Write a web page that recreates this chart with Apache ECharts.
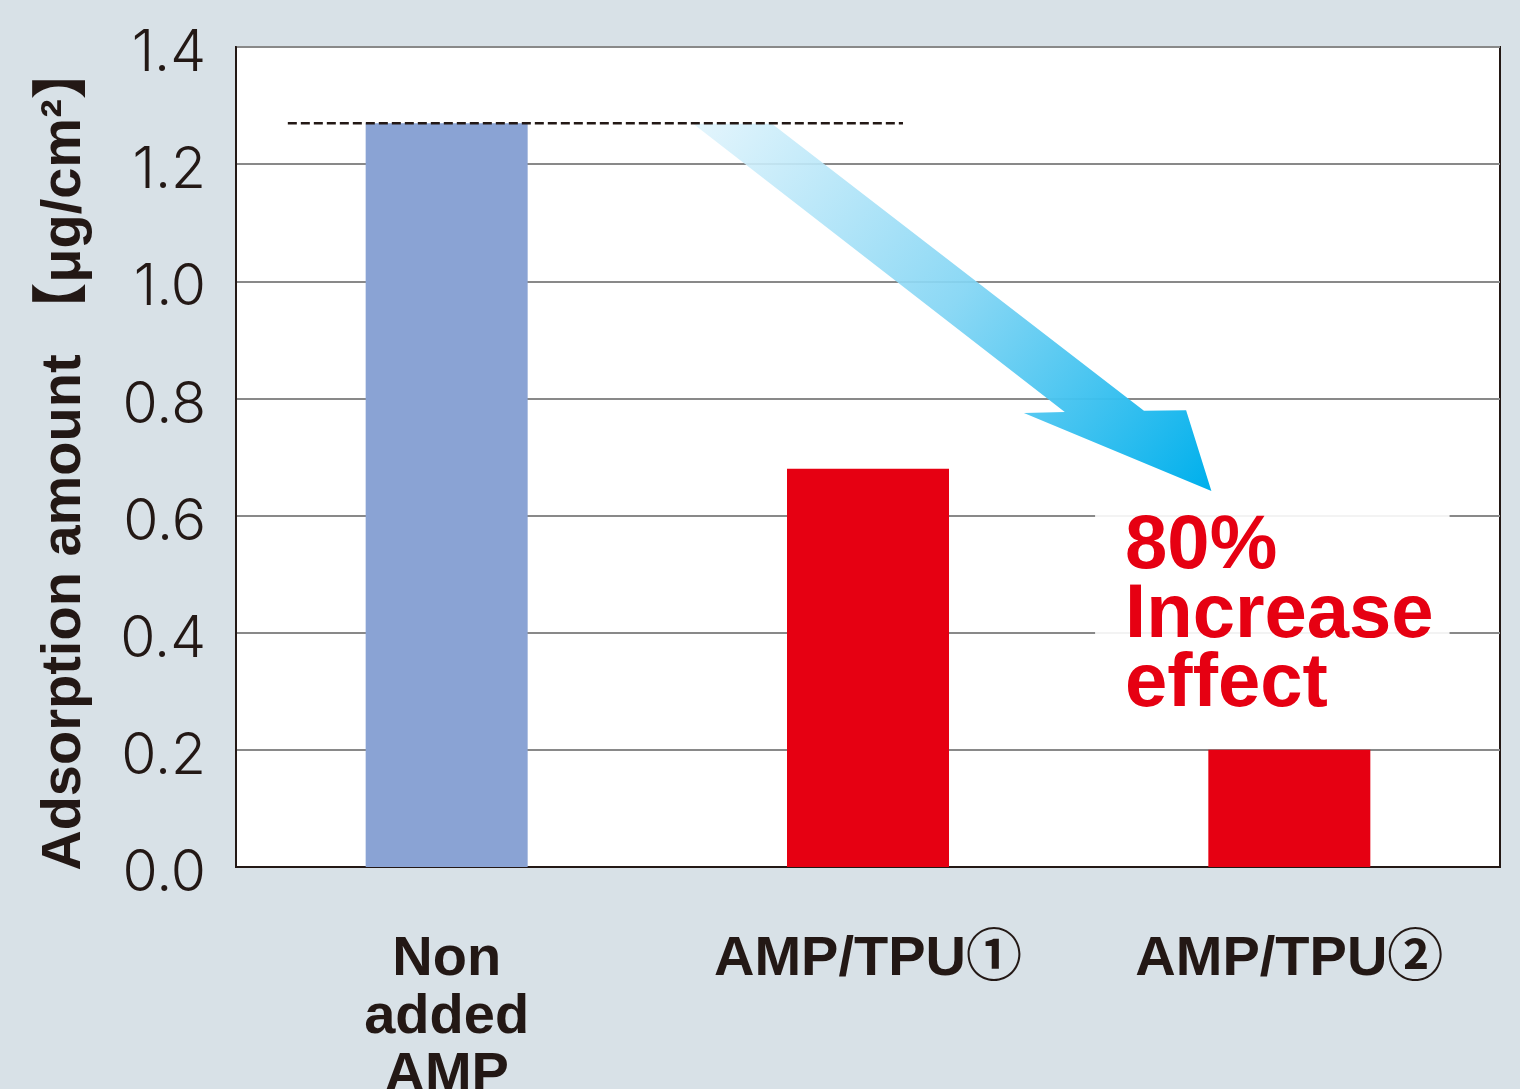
<!DOCTYPE html>
<html>
<head>
<meta charset="utf-8">
<script src="https://cdn.jsdelivr.net/npm/echarts@6/dist/echarts.min.js"></script>
<style>
  html, body { margin: 0; padding: 0; background: #d8e1e7; }
  #chart { width: 1520px; height: 1089px; }
</style>
</head>
<body>
<div id="chart"></div>
<script>
// Adsorption amount per sample
const categories = ['Non\nadded\nAMP', 'AMP/TPU①', 'AMP/TPU②'];
const values = [1.27, 0.68, 0.20];
const barColors = ['#8aa3d4', '#e60012', '#e60012'];
const yTicks = { min: 0, max: 1.4, interval: 0.2 };
const referenceLevel = 1.27; // dashed line at the untreated level
const noteText = '80%\nIncrease\neffect';

const TEXT = '#231815';
const chart = echarts.init(document.getElementById('chart'), null, { renderer: 'canvas' });

chart.setOption({
  backgroundColor: '#d8e1e7',
  animation: false,
  grid: {
    left: 236, top: 47, right: 20, bottom: 222,
    outerBoundsMode: 'none',
    containLabel: false,
    show: true, backgroundColor: '#ffffff', borderColor: TEXT, borderWidth: 2
  },
  xAxis: {
    type: 'category',
    data: categories,
    axisLine: { show: true, lineStyle: { color: TEXT, width: 2 } },
    axisTick: { show: false },
    axisLabel: {
      color: TEXT, fontFamily: 'Liberation Sans, "Noto Sans CJK JP", sans-serif',
      fontWeight: 'bold', fontSize: 56, lineHeight: 58, margin: 64, interval: 0
    }
  },
  yAxis: {
    type: 'value',
    min: yTicks.min, max: yTicks.max, interval: yTicks.interval,
    name: 'Adsorption amount 【μg/cm²】',
    nameLocation: 'middle',
    nameGap: 143,
    nameRotate: 90,
    nameTextStyle: {
      color: TEXT, fontFamily: 'Liberation Sans, "Noto Sans CJK JP", sans-serif',
      fontWeight: 'bold', fontSize: 56
    },
    axisLine: { show: true, lineStyle: { color: TEXT, width: 2 } },
    axisTick: { show: false },
    axisLabel: {
      margin: 30,
      formatter: v => '{t|' + v.toFixed(1) + '}',
      rich: {
        t: {
          color: TEXT, fontFamily: 'Inter, "Noto Sans", sans-serif', fontWeight: 300,
          fontSize: 57, padding: [14, 0, 0, 0]
        }
      }
    },
    splitLine: { lineStyle: { color: '#898989', width: 2 } }
  },
  series: [{
    type: 'bar',
    barWidth: 162,
    data: values.map((v, i) => ({ value: v, itemStyle: { color: barColors[i] } })),
    z: 2
  }]
});

// Position helper: fractional category index and data value to pixels
function px(c, v) {
  const x0 = chart.convertToPixel({ xAxisIndex: 0 }, 0);
  const x1 = chart.convertToPixel({ xAxisIndex: 0 }, 1);
  const y = chart.convertToPixel({ yAxisIndex: 0 }, v);
  return [x0 + (x1 - x0) * c, y];
}

// Arrow outline in (category, value) space
const arrowShape = [
  [0.585, 1.269], [0.772, 1.269], [1.655, 0.779], [1.755, 0.780],
  [1.815, 0.642], [1.370, 0.775], [1.467, 0.777]
];
const arrowPts = arrowShape.map(p => px(p[0], p[1]));
const gStart = px(0.62, 1.30);
const gEnd = px(1.80, 0.64);

const lineL = px(-0.377, referenceLevel);
const lineR = px(1.083, referenceLevel);
const noteAt = px(1.539, 0.625);

chart.setOption({
  graphic: [
    {
      type: 'polygon',
      z: 1,
      shape: { points: arrowPts },
      style: {
        fill: new echarts.graphic.LinearGradient(gStart[0], gStart[1], gEnd[0], gEnd[1], [
          { offset: 0, color: 'rgba(225,244,252,0.9)' },
          { offset: 0.5, color: 'rgba(130,213,244,0.92)' },
          { offset: 1, color: 'rgba(0,176,236,1)' }
        ], true)
      }
    },
    {
      type: 'line',
      z: 10,
      shape: { x1: lineL[0], y1: lineL[1], x2: lineR[0], y2: lineR[1] },
      style: { stroke: TEXT, lineWidth: 2.5, lineDash: [9, 4] }
    },
    {
      type: 'text',
      z: 10,
      x: noteAt[0], y: noteAt[1],
      style: {
        text: noteText,
        fill: '#e60012',
        font: 'bold 76px "Liberation Sans", sans-serif',
        lineHeight: 69,
        align: 'left', verticalAlign: 'top',
        backgroundColor: 'rgba(255,255,255,0.9)',
        padding: [12, 16, 6, 30]
      }
    }
  ]
});
</script>
</body>
</html>
